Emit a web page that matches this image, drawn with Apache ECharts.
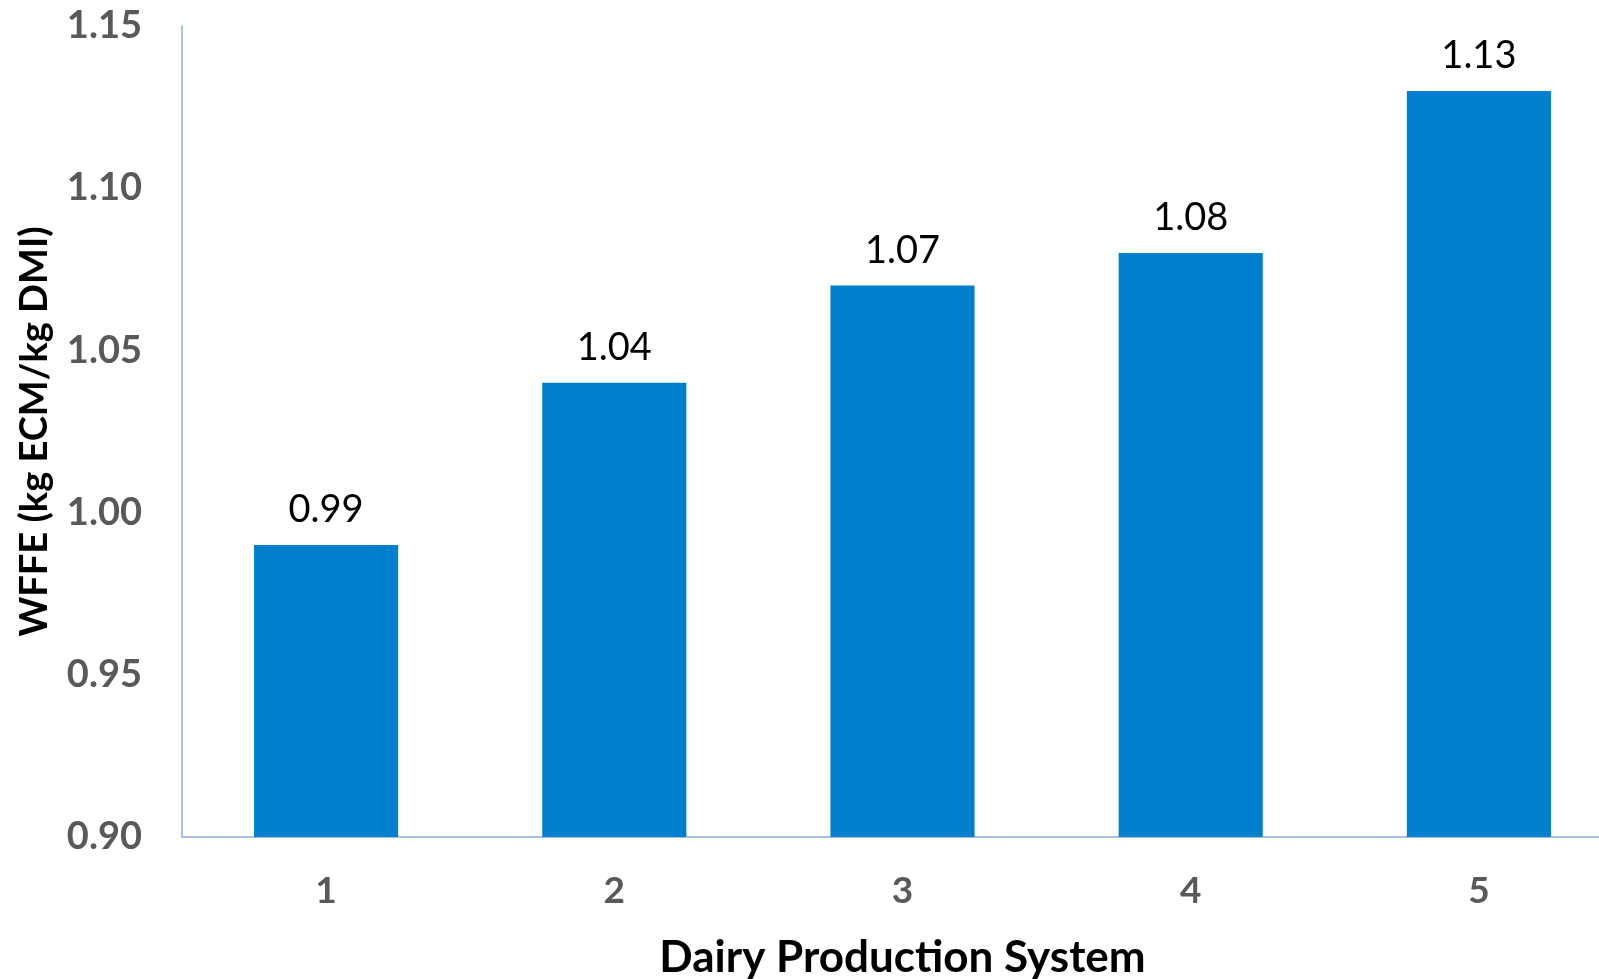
<!DOCTYPE html>
<html>
<head>
<meta charset="utf-8">
<script src="https://cdn.jsdelivr.net/npm/echarts@6/dist/echarts.min.js"></script>
<style>
html,body{margin:0;padding:0;background:#fff;overflow:hidden;width:1599px;height:979px;}
#chart{width:1623px;height:979px;}
</style>
</head>
<body>
<div id="chart"></div>
<script>
const categories = ['1', '2', '3', '4', '5'];
const wfeValues = [0.99, 1.04, 1.07, 1.08, 1.13];
const yMin = 0.90, yMax = 1.15, yStep = 0.05;
const xAxisTitle = 'Dairy Production System';
const yAxisTitle = 'WFFE (kg ECM/kg DMI)';

const chart = echarts.init(document.getElementById('chart'), null, {renderer: 'canvas'});
const FONT = 'Lato';
chart.setOption({
  animation: false,
  backgroundColor: '#ffffff',
  grid: {left: 182, right: 0, top: 26, bottom: 142, containLabel: false, outerBoundsMode: 'none'},
  xAxis: {
    type: 'category',
    data: categories,
    axisLine: {show: true, lineStyle: {color: '#8FAADC', width: 1.5}},
    axisTick: {show: false},
    axisLabel: {margin: 36, fontFamily: FONT, fontWeight: 'bold', fontSize: 37, color: '#595959'},
    name: xAxisTitle,
    nameLocation: 'middle',
    nameGap: 99,
    nameTextStyle: {fontFamily: FONT, fontWeight: 'bold', fontSize: 44, color: '#000000'}
  },
  yAxis: {
    type: 'value',
    min: yMin, max: yMax, interval: yStep,
    axisLine: {show: true, lineStyle: {color: '#8FAADC', width: 1.5}},
    axisTick: {show: false},
    splitLine: {show: false},
    axisLabel: {margin: 40, fontFamily: FONT, fontWeight: 'bold', fontSize: 38, color: '#595959',
      formatter: v => v.toFixed(2)},
    name: yAxisTitle,
    nameLocation: 'middle',
    nameGap: 128,
    nameRotate: 90,
    nameTextStyle: {fontFamily: FONT, fontWeight: 'bold', fontSize: 38, color: '#000000'}
  },
  series: [{
    type: 'bar',
    data: wfeValues,
    barWidth: '50%',
    itemStyle: {color: '#0080CC'},
    label: {show: true, position: 'top', distance: 16, fontFamily: FONT, fontSize: 38, color: '#000000',
      formatter: p => p.value.toFixed(2)}
  }]
});
</script>
</body>
</html>
